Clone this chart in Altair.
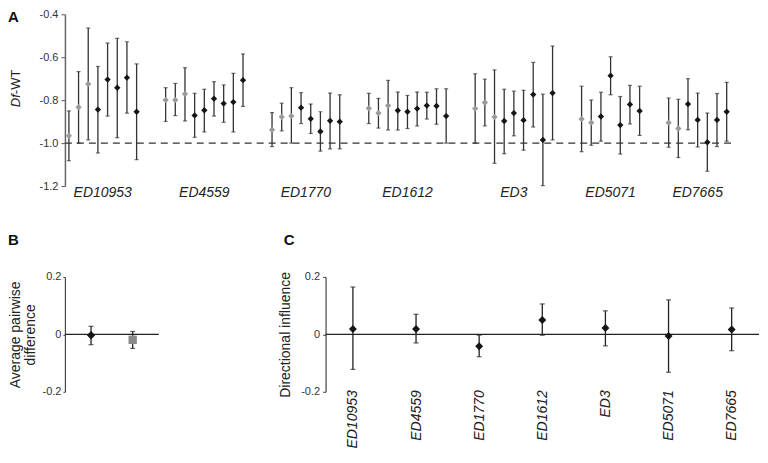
import altair as alt
import pandas as pd

# ---------------- data ----------------
groups = ["ED10953", "ED4559", "ED1770", "ED1612", "ED3", "ED5071", "ED7665"]
group_sizes = [8, 9, 8, 9, 9, 7, 7]
gray_counts = [3, 3, 3, 3, 3, 2, 2]

# Panel A (Df-WT), listed group by group
a_mean = [
    -0.966, -0.833, -0.725, -0.844, -0.704, -0.742, -0.695, -0.854,
    -0.799, -0.799, -0.771, -0.871, -0.847, -0.793, -0.816, -0.809, -0.707,
    -0.938, -0.878, -0.874, -0.835, -0.887, -0.946, -0.896, -0.900,
    -0.838, -0.860, -0.825, -0.848, -0.854, -0.839, -0.825, -0.827, -0.874,
    -0.839, -0.811, -0.878, -0.897, -0.860, -0.893, -0.774, -0.985, -0.767,
    -0.888, -0.905, -0.876, -0.686, -0.916, -0.820, -0.850,
    -0.905, -0.932, -0.818, -0.892, -0.996, -0.892, -0.854,
]
a_high = [
    -0.850, -0.667, -0.464, -0.643, -0.534, -0.512, -0.528, -0.631,
    -0.742, -0.722, -0.649, -0.768, -0.749, -0.714, -0.729, -0.675, -0.585,
    -0.858, -0.814, -0.742, -0.765, -0.818, -0.854, -0.767, -0.775,
    -0.768, -0.792, -0.708, -0.762, -0.778, -0.762, -0.763, -0.747, -0.747,
    -0.677, -0.702, -0.659, -0.749, -0.758, -0.754, -0.624, -0.772, -0.548,
    -0.735, -0.799, -0.763, -0.598, -0.783, -0.731, -0.735,
    -0.790, -0.796, -0.700, -0.767, -0.860, -0.769, -0.717,
]
a_low = [
    -1.082, -1.000, -0.985, -1.046, -0.874, -0.975, -0.860, -1.077,
    -0.899, -0.872, -0.897, -0.973, -0.948, -0.874, -0.903, -0.948, -0.829,
    -1.016, -0.943, -1.000, -0.909, -0.955, -1.037, -1.027, -1.027,
    -0.909, -0.930, -0.939, -0.939, -0.932, -0.920, -0.888, -0.912, -1.000,
    -1.000, -0.920, -1.094, -1.049, -0.966, -1.033, -0.925, -1.198, -0.985,
    -1.040, -1.010, -0.991, -0.775, -1.051, -0.911, -0.964,
    -1.019, -1.067, -0.938, -1.018, -1.131, -1.016, -0.991,
]
a_ticks = [-0.4, -0.6, -0.8, -1.0, -1.2]

# Panel B (average pairwise difference)
b_items = ["diamond", "square"]
b_mean = [-0.003, -0.019]
b_high = [0.028, 0.010]
b_low = [-0.036, -0.049]

# Panel C (directional influence)
c_mean = [0.019, 0.019, -0.041, 0.050, 0.022, -0.006, 0.017]
c_high = [0.165, 0.070, -0.003, 0.106, 0.082, 0.120, 0.092]
c_low = [-0.122, -0.030, -0.078, -0.003, -0.040, -0.132, -0.057]
bc_ticks = [0.2, 0.0, -0.2]

# ---------------- tables ----------------
rows, labels = [], []
i, start = 0, 0
for g, n, ng in zip(groups, group_sizes, gray_counts):
    for k in range(n):
        rows.append(dict(group=g, pos=start + k, shade="gray" if k < ng else "black",
                         mean=a_mean[i], high=a_high[i], low=a_low[i]))
        i += 1
    labels.append(dict(group=g, center=start + (n - 1) / 2))
    start += n + 2
dfa = pd.DataFrame(rows)
dfa_lab = pd.DataFrame(labels)
dfb = pd.DataFrame(dict(item=b_items, mean=b_mean, high=b_high, low=b_low))
dfc = pd.DataFrame(dict(group=groups, mean=c_mean, high=c_high, low=c_low))

FONT = "Liberation Sans"
minus_expr = "datum.value == 0 ? '0' : (datum.value < 0 ? '-' : '') + format(abs(datum.value), '.1f')"
LEFT = -57

# ---------------- panel A ----------------
AW, AH = 667, 172
xa = alt.Scale(domain=[-0.41, 68.45], nice=False, zero=False)
ya = alt.Scale(domain=[-1.2, -0.4], nice=False, zero=False)
ya_axis = alt.Axis(values=a_ticks, labelExpr=minus_expr, title=None, grid=False,
                   domainColor="#666", domainWidth=1.5, tickColor="#555", tickSize=4,
                   labelFontSize=11, labelPadding=3, labelColor="#333")

baseA = alt.Chart(dfa)
dash = alt.Chart(pd.DataFrame({"v": [-1.0]})).mark_rule(
    strokeDash=[7, 5], color="#333", strokeWidth=1.2
).encode(y=alt.Y("v:Q", scale=ya, axis=ya_axis))
barsA = baseA.mark_rule(color="#333", strokeWidth=1.3).encode(
    x=alt.X("pos:Q", scale=xa, axis=None),
    y=alt.Y("low:Q", scale=ya, axis=ya_axis), y2="high:Q")
capLoA = baseA.mark_tick(orient="horizontal", size=4, thickness=1.2, color="#333").encode(
    x=alt.X("pos:Q", scale=xa, axis=None), y=alt.Y("low:Q", scale=ya))
capHiA = baseA.mark_tick(orient="horizontal", size=4, thickness=1.2, color="#333").encode(
    x=alt.X("pos:Q", scale=xa, axis=None), y=alt.Y("high:Q", scale=ya))
ptsA = baseA.mark_point(shape="diamond", filled=True, size=40, opacity=1).encode(
    x=alt.X("pos:Q", scale=xa, axis=None),
    y=alt.Y("mean:Q", scale=ya),
    color=alt.Color("shade:N", scale=alt.Scale(domain=["gray", "black"], range=["#9a9a9a", "#151515"]),
                    legend=None))
labA = alt.Chart(dfa_lab).mark_text(font=FONT, fontStyle="italic", fontSize=14, color="#222",
                                    baseline="middle", align="center").encode(
    x=alt.X("center:Q", scale=xa, axis=None), y=alt.value(AH + 7), text="group:N")
letterA = alt.Chart(pd.DataFrame({"t": ["A"]})).mark_text(
    font=FONT, fontSize=15, fontWeight="bold", align="left", baseline="top", color="#111"
).encode(x=alt.value(LEFT), y=alt.value(-4), text="t:N")
titleDf = alt.Chart(pd.DataFrame({"t": ["Df"]})).mark_text(
    font=FONT, fontSize=13, fontStyle="italic", angle=270, align="right", baseline="middle", color="#222"
).encode(x=alt.value(LEFT + 8), y=alt.value(80), text="t:N")
titleWT = alt.Chart(pd.DataFrame({"t": ["-WT"]})).mark_text(
    font=FONT, fontSize=13, angle=270, align="left", baseline="middle", color="#222"
).encode(x=alt.value(LEFT + 8), y=alt.value(80), text="t:N")

panelA = alt.layer(dash, barsA, capLoA, capHiA, ptsA, labA, letterA, titleDf, titleWT).properties(
    width=AW, height=AH)

# ---------------- panel B ----------------
BW, BH = 94, 115
xb = alt.Scale(type="point", domain=b_items, padding=0.627)
yb = alt.Scale(domain=[-0.2, 0.2], nice=False, zero=False)
yb_axis = alt.Axis(values=bc_ticks, labelExpr=minus_expr, title=["Average pairwise", "difference"],
                   grid=False, domainColor="#444", domainWidth=1.2, tickColor="#444", tickSize=2,
                   labelFontSize=11, labelPadding=2, labelColor="#333",
                   titleFontSize=14, titleFontWeight="normal", titleColor="#222",
                   titlePadding=4, titleLineHeight=16, titleLimit=200)
zeroB = alt.Chart(pd.DataFrame({"v": [0.0]})).mark_rule(color="#222", strokeWidth=1.3).encode(
    y=alt.Y("v:Q", scale=yb, axis=yb_axis))
baseB = alt.Chart(dfb)
barsB = baseB.mark_rule(color="#222", strokeWidth=1.3).encode(
    x=alt.X("item:N", scale=xb, axis=None), y=alt.Y("low:Q", scale=yb), y2="high:Q")
capLoB = baseB.mark_tick(orient="horizontal", size=5, thickness=1.2, color="#222").encode(
    x=alt.X("item:N", scale=xb, axis=None), y=alt.Y("low:Q", scale=yb))
capHiB = baseB.mark_tick(orient="horizontal", size=5, thickness=1.2, color="#222").encode(
    x=alt.X("item:N", scale=xb, axis=None), y=alt.Y("high:Q", scale=yb))
ptsB = baseB.mark_point(filled=True, opacity=1, size=70).encode(
    x=alt.X("item:N", scale=xb, axis=None), y=alt.Y("mean:Q", scale=yb),
    shape=alt.Shape("item:N", scale=alt.Scale(domain=b_items, range=["diamond", "square"]), legend=None),
    color=alt.Color("item:N", scale=alt.Scale(domain=b_items, range=["#151515", "#8a8a8a"]), legend=None))
letterB = alt.Chart(pd.DataFrame({"t": ["B"]})).mark_text(
    font=FONT, fontSize=15, fontWeight="bold", align="left", baseline="top", color="#111"
).encode(x=alt.value(LEFT), y=alt.value(-44), text="t:N")
panelB = alt.layer(zeroB, barsB, capLoB, capHiB, ptsB, letterB).properties(width=BW, height=BH)

# ---------------- panel C ----------------
CW, CH = 434, 115
xc = alt.Scale(type="point", domain=groups, padding=0.433)
yc = alt.Scale(domain=[-0.2, 0.2], nice=False, zero=False)
yc_axis = alt.Axis(values=bc_ticks, labelExpr=minus_expr, title="Directional influence",
                   grid=False, domainColor="#444", domainWidth=1.2, tickColor="#444", tickSize=3,
                   labelFontSize=11, labelPadding=3, labelColor="#333",
                   titleFontSize=14, titleFontWeight="normal", titleColor="#222", titlePadding=8)
xc_axis = alt.Axis(title=None, labelAngle=-90, labelFontSize=14, labelFontStyle="italic",
                   labelColor="#222", domain=False, ticks=False, labelPadding=-2)
zeroC = alt.Chart(pd.DataFrame({"v": [0.0]})).mark_rule(color="#222", strokeWidth=1.3).encode(
    y=alt.Y("v:Q", scale=yc, axis=yc_axis))
baseC = alt.Chart(dfc)
barsC = baseC.mark_rule(color="#222", strokeWidth=1.3).encode(
    x=alt.X("group:N", scale=xc, axis=xc_axis, sort=groups), y=alt.Y("low:Q", scale=yc), y2="high:Q")
capLoC = baseC.mark_tick(orient="horizontal", size=5, thickness=1.2, color="#222").encode(
    x=alt.X("group:N", scale=xc, sort=groups), y=alt.Y("low:Q", scale=yc))
capHiC = baseC.mark_tick(orient="horizontal", size=5, thickness=1.2, color="#222").encode(
    x=alt.X("group:N", scale=xc, sort=groups), y=alt.Y("high:Q", scale=yc))
ptsC = baseC.mark_point(shape="diamond", filled=True, opacity=1, size=64, color="#151515").encode(
    x=alt.X("group:N", scale=xc, sort=groups), y=alt.Y("mean:Q", scale=yc))
letterC = alt.Chart(pd.DataFrame({"t": ["C"]})).mark_text(
    font=FONT, fontSize=15, fontWeight="bold", align="left", baseline="top", color="#111"
).encode(x=alt.value(-42), y=alt.value(-44), text="t:N")
panelC = alt.layer(zeroC, barsC, capLoC, capHiC, ptsC, letterC).properties(width=CW, height=CH)

bottom = alt.hconcat(panelB, panelC, spacing=119)
chart = alt.vconcat(panelA, bottom, spacing=33).resolve_scale(
    color="independent", shape="independent"
).properties(padding=0).configure(font=FONT).configure_view(stroke=None)

chart.save("out.html", embed_options={"renderer": "svg", "actions": False})
